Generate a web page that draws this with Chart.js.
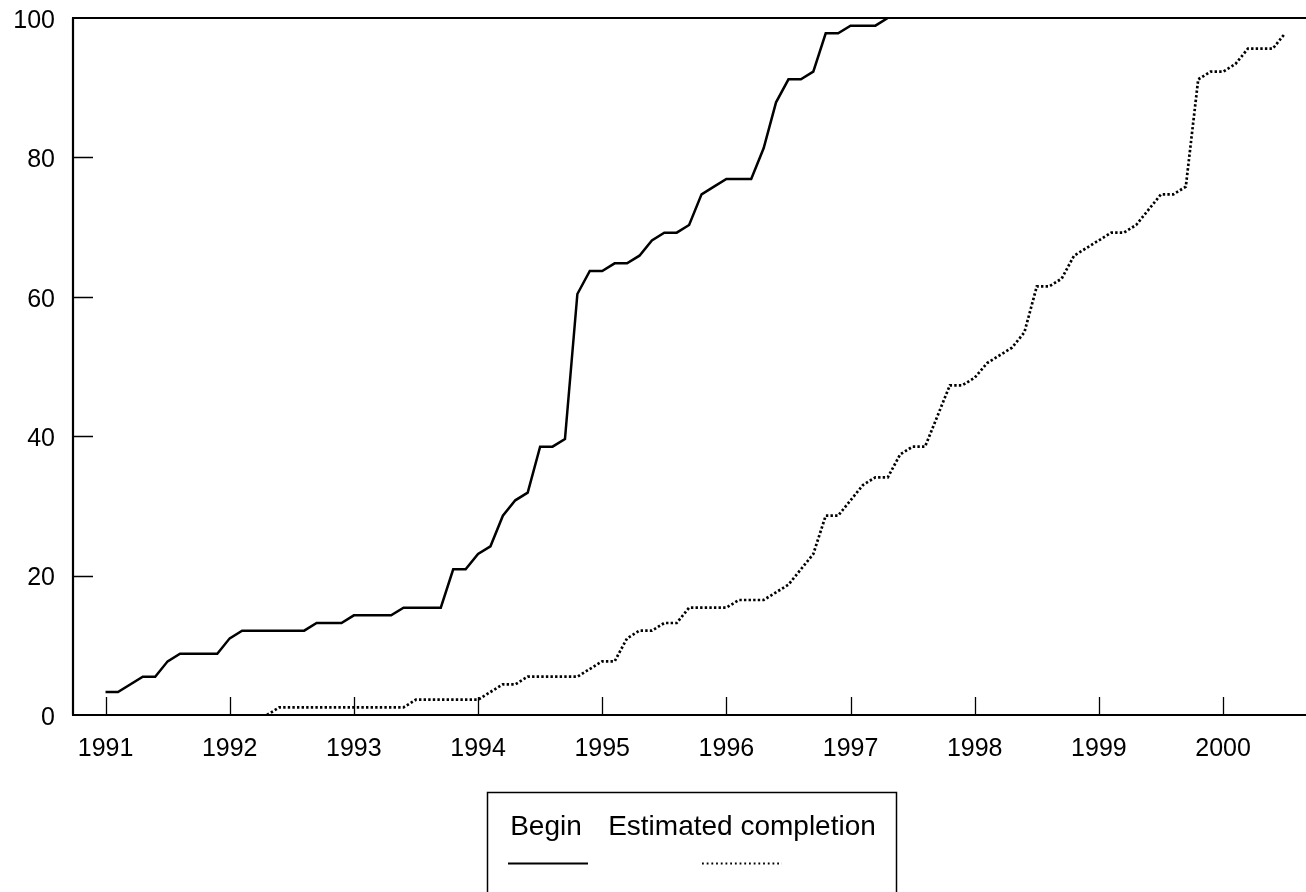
<!DOCTYPE html>
<html>
<head>
<meta charset="utf-8">
<script src="https://cdn.jsdelivr.net/npm/chart.js@4/dist/chart.umd.min.js"></script>
<style>
  html, body { margin: 0; padding: 0; background: #fff; }
  #wrap { position: relative; width: 1306px; height: 892px; }
</style>
</head>
<body>
<div id="wrap"><canvas id="c" width="1306" height="892"></canvas></div>
<script>
// ---- data ----
const seriesNames = ["Begin", "Estimated completion"];
const beginYears = [1991.0,1991.1,1991.3,1991.4,1991.5,1991.6,1991.9,1992.0,1992.1,1992.6,
  1992.7,1992.9,1993.0,1993.3,1993.4,1993.7,1993.8,1993.9,1994.0,1994.1,
  1994.2,1994.3,1994.4,1994.5,1994.6,1994.7,1994.8,1994.9,1995.0,1995.1,
  1995.2,1995.3,1995.4,1995.5,1995.6,1995.7,1995.8,1995.9,1996.0,1996.2,
  1996.3,1996.4,1996.5,1996.6,1996.7,1996.8,1996.9,1997.0,1997.2,1997.3];
const beginValues = [3.3,3.3,5.5,5.5,7.7,8.8,8.8,11.0,12.1,12.1,
  13.2,13.2,14.3,14.3,15.4,15.4,20.9,20.9,23.1,24.2,
  28.6,30.8,31.9,38.5,38.5,39.6,60.4,63.7,63.7,64.8,
  64.8,65.9,68.1,69.2,69.2,70.3,74.7,75.8,76.9,76.9,
  81.3,87.9,91.2,91.2,92.3,97.8,97.8,98.9,98.9,100];
const completionYears = [1992.3,1992.4,1993.4,1993.5,1994.0,1994.2,1994.3,1994.4,1994.8,1995.0,
  1995.1,1995.2,1995.3,1995.4,1995.5,1995.6,1995.7,1996.0,1996.1,1996.3,
  1996.4,1996.5,1996.6,1996.7,1996.8,1996.9,1997.0,1997.1,1997.2,1997.3,
  1997.4,1997.5,1997.6,1997.7,1997.8,1997.9,1998.0,1998.1,1998.2,1998.3,
  1998.4,1998.5,1998.6,1998.7,1998.8,1998.9,1999.0,1999.1,1999.2,1999.3,
  1999.4,1999.5,1999.6,1999.7,1999.8,1999.9,2000.0,2000.1,2000.2,2000.4,
  2000.5];
const completionValues = [0,1.1,1.1,2.2,2.2,4.4,4.4,5.5,5.5,7.7,
  7.7,11.0,12.1,12.1,13.2,13.2,15.4,15.4,16.5,16.5,
  17.6,18.7,20.9,23.1,28.6,28.6,30.8,33.0,34.1,34.1,
  37.4,38.5,38.5,42.9,47.3,47.3,48.4,50.5,51.6,52.7,
  54.9,61.5,61.5,62.6,65.9,67.0,68.1,69.2,69.2,70.3,
  72.5,74.7,74.7,75.8,91.2,92.3,92.3,93.4,95.6,95.6,
  97.8];
const xTickYears = [1991,1992,1993,1994,1995,1996,1997,1998,1999,2000];
const yTickValues = [0,20,40,60,80,100];

const FONT = "'Liberation Sans', Arial, Helvetica, sans-serif";

const frameAndLegend = {
  id: 'frameAndLegend',
  afterDatasetsDraw(chart) {
    const ctx = chart.ctx;
    const a = chart.chartArea;
    const xs = chart.scales.x, ys = chart.scales.y;
    ctx.save();
    ctx.strokeStyle = '#000';
    ctx.lineCap = 'butt';
    // frame: left, bottom, top
    ctx.lineWidth = 2.2;
    ctx.beginPath();
    ctx.moveTo(a.left, a.top); ctx.lineTo(a.left, a.bottom);
    ctx.moveTo(a.left - 1, a.bottom); ctx.lineTo(a.right, a.bottom);
    ctx.moveTo(a.left - 1, a.top); ctx.lineTo(a.right, a.top);
    ctx.stroke();
    // inward ticks
    ctx.lineWidth = 1.3;
    ctx.beginPath();
    xTickYears.forEach(v => {
      const px = Math.round(xs.getPixelForValue(v)) + 0.5;
      ctx.moveTo(px, a.bottom); ctx.lineTo(px, a.bottom - 18);
    });
    yTickValues.slice(1, -1).forEach(v => {
      const py = Math.round(ys.getPixelForValue(v)) + 0.5;
      ctx.moveTo(a.left, py); ctx.lineTo(a.left + 20, py);
    });
    ctx.stroke();
    // legend box
    ctx.lineWidth = 1.5;
    ctx.strokeRect(487.5, 792.5, 409, 120);
    ctx.fillStyle = '#000';
    ctx.font = '28px ' + FONT;
    ctx.textAlign = 'center';
    ctx.textBaseline = 'alphabetic';
    ctx.fillText(seriesNames[0], 546, 835);
    ctx.fillText(seriesNames[1], 742, 835);
    // legend samples
    ctx.lineWidth = 2;
    ctx.beginPath(); ctx.moveTo(508, 863.5); ctx.lineTo(588, 863.5); ctx.stroke();
    ctx.lineWidth = 1.8;
    ctx.setLineDash([1.8, 2.9]);
    ctx.beginPath(); ctx.moveTo(702, 863.5); ctx.lineTo(782, 863.5); ctx.stroke();
    ctx.restore();
  }
};

new Chart(document.getElementById('c'), {
  type: 'line',
  data: {
    datasets: [
      {
        label: seriesNames[0],
        data: beginYears.map((x, i) => ({x: x, y: beginValues[i]})),
        borderColor: '#000',
        borderWidth: 2.5,
        pointRadius: 0,
        tension: 0,
        fill: false
      },
      {
        label: seriesNames[1],
        data: completionYears.map((x, i) => ({x: x, y: completionValues[i]})),
        borderColor: '#000',
        borderWidth: 2.7,
        borderDash: [2.4, 2.2],
        borderCapStyle: 'butt',
        pointRadius: 0,
        tension: 0,
        fill: false
      }
    ]
  },
  options: {
    responsive: false,
    devicePixelRatio: 1,
    animation: false,
    layout: { padding: { top: 18, right: 0, left: 0, bottom: 0 } },
    plugins: { legend: { display: false }, tooltip: { enabled: false } },
    scales: {
      x: {
        type: 'linear',
        min: 1990.738,
        max: 2000.668,
        afterBuildTicks: s => { s.ticks = xTickYears.map(v => ({value: v})); },
        afterFit: s => { s.height = 177; s.paddingLeft = 0; s.paddingRight = 0; },
        ticks: {
          callback: v => String(v),
          color: '#000',
          font: { family: FONT, size: 25 },
          padding: 19,
          maxRotation: 0,
          autoSkip: false
        },
        grid: { display: false, drawTicks: false },
        border: { display: false }
      },
      y: {
        min: 0,
        max: 100,
        afterBuildTicks: s => { s.ticks = yTickValues.map(v => ({value: v})); },
        afterFit: s => { s.width = 73; s.paddingTop = 0; s.paddingBottom = 0; },
        ticks: {
          color: '#000',
          font: { family: FONT, size: 25 },
          padding: 18,
          labelOffset: 3
        },
        grid: { display: false, drawTicks: false },
        border: { display: false }
      }
    }
  },
  plugins: [frameAndLegend]
});
</script>
</body>
</html>
